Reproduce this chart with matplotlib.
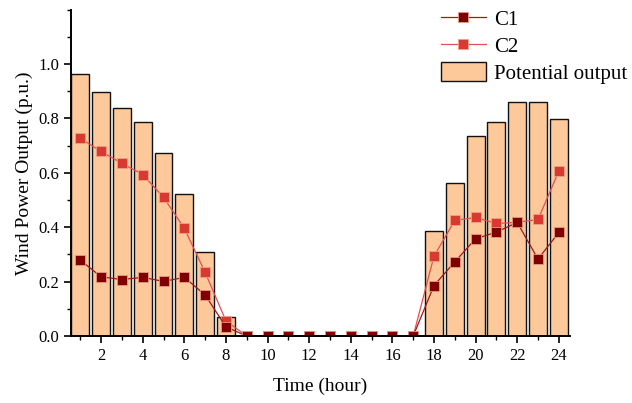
import matplotlib
matplotlib.use("Agg")
import matplotlib.pyplot as plt
from matplotlib.ticker import MultipleLocator

hours = list(range(1, 25))
potential = [0.962, 0.898, 0.837, 0.787, 0.674, 0.523, 0.310, 0.072,
             0, 0, 0, 0, 0, 0, 0, 0, 0,
             0.386, 0.561, 0.736, 0.787, 0.861, 0.861, 0.799]
c1 = [0.279, 0.218, 0.208, 0.216, 0.201, 0.216, 0.151, 0.034,
      0, 0, 0, 0, 0, 0, 0, 0, 0,
      0.186, 0.273, 0.358, 0.382, 0.418, 0.283, 0.381]
c2 = [0.727, 0.679, 0.635, 0.594, 0.510, 0.396, 0.234, 0.056,
      0, 0, 0, 0, 0, 0, 0, 0, 0,
      0.294, 0.425, 0.436, 0.414, 0.418, 0.429, 0.606]
xticks = list(range(2, 25, 2))
yticks = [0.0, 0.2, 0.4, 0.6, 0.8, 1.0]

plt.rcParams['font.family'] = ['Liberation Serif', 'DejaVu Serif']
plt.rcParams['mathtext.fontset'] = 'stix'

fig = plt.figure(figsize=(6.32, 4.03), dpi=100)
ax = fig.add_axes([0.1123, 0.166, 0.79, 0.81])

ax.bar(hours, potential, width=0.86, color='#fdc99b', edgecolor='#111111',
       linewidth=1.0, label='Potential output', zorder=1)
ax.plot(hours, c1, color='#a01818', lw=0.9, marker='s', markersize=7.5,
        markerfacecolor='#800000', markeredgecolor='#e89888', markeredgewidth=0.6,
        label='C1', zorder=3)
ax.plot(hours, c2, color='#e05050', lw=0.9, marker='s', markersize=7.5,
        markerfacecolor='#d83a30', markeredgecolor='#f0a090', markeredgewidth=0.6,
        label='C2', zorder=2)

ax.set_xlim(0.55, 24.55)
ax.set_ylim(0, 1.2)
ax.set_xticks(xticks)
ax.set_yticks(yticks)
ax.set_yticklabels([f"{v:.1f}" for v in yticks])
ax.xaxis.set_minor_locator(MultipleLocator(1))
ax.yaxis.set_minor_locator(MultipleLocator(0.1))
ax.tick_params(which='major', direction='out', length=5, width=1.2, labelsize=12)
ax.tick_params(which='minor', direction='out', length=3, width=1.0)
for s in ['top', 'right']:
    ax.spines[s].set_visible(False)
for s in ['left', 'bottom']:
    ax.spines[s].set_linewidth(1.4)
    ax.spines[s].set_zorder(5)

ax.set_xlabel('Time (hour)', fontsize=14, labelpad=10)
ax.set_ylabel('Wind Power Output (p.u.)', fontsize=14, labelpad=4)

h, l = ax.get_legend_handles_labels()
ax.legend(h, l, loc='upper right',
          bbox_to_anchor=(1.151, 1.062), frameon=False, fontsize=15,
          handlelength=2.2, handleheight=1.05, handletextpad=0.35,
          labelspacing=0.25)

fig.savefig('out.png', dpi=100)
